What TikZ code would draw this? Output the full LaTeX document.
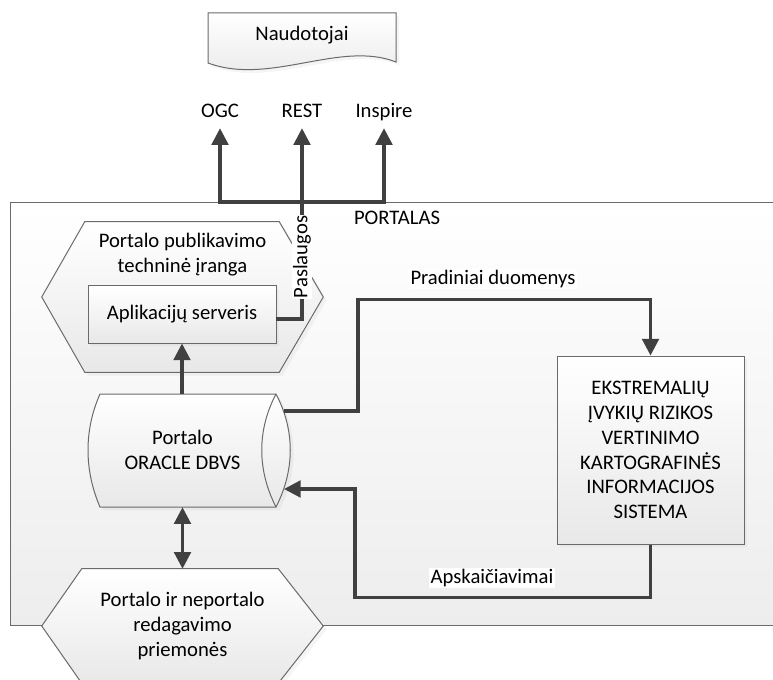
\documentclass[tikz,border=0pt]{standalone}
\usepackage{fontspec}
\setmainfont{Carlito}
\usetikzlibrary{arrows.meta,calc,shadows}

\definecolor{wirecol}{HTML}{404040}
\definecolor{rimcol}{HTML}{6A6A6A}
\newcommand{\pxu}{0.75pt}

\begin{document}
\begin{tikzpicture}[x=0.75pt,y=-0.75pt,
  font=\fontsize{15.5}{18.6}\selectfont,
  txt/.style={inner sep=1pt, align=center, text=black},
  tag/.style={txt, fill=white},
  area/.style={draw=none, inner sep=0pt, minimum width=#1},
  shapefill/.style={draw=rimcol, line width=0.75pt, top color=white, bottom color=black!9,
    drop shadow={opacity=0.08, shadow xshift=2.5pt, shadow yshift=-2.5pt}},
  framefill/.style={draw=rimcol, line width=0.75pt, top color=white, bottom color=black!7},
  wire/.style={draw=wirecol, line width=2.4pt},
  tip/.tip={Triangle[length=12.5pt,width=12.5pt]},
  arr/.style={wire, -tip},
  twoway/.style={wire, tip-tip},
  toptext/.style={txt, anchor=base, inner xsep=2pt, inner ysep=7.5pt, text depth=0pt}
]
\useasboundingbox (0,0) rectangle (773,680);

% PORTALAS frame (its right side runs off the page)
\path[framefill] (10,203) rectangle (800,625);
\node[txt] (portal) at (397,218) {PORTALAS};

% users: document shape
\path[shapefill] (208,13) -- (396,13) -- (396,62)
  .. controls (340,40) and (270,86) .. (208,63) -- cycle;
\node[txt] (users) at (302,35) {Naudotojai};

% service protocols
\node[toptext] (ogc) at (220,118) {OGC};
\node[toptext] (rest) at (302,118) {REST};
\node[toptext] (inspire) at (384,118) {Inspire};
\coordinate (busy) at (302,202);

% publishing hardware (hexagon)
\node[area=281*\pxu, minimum height=150*\pxu] (pub) at (182.5,297) {};
\path[shapefill] (pub.west) -- ($(pub.north west)+(43,0)$) -- ($(pub.north east)+(-44,0)$)
  -- (pub.east) -- ($(pub.south east)+(-44,0)$) -- ($(pub.south west)+(43,0)$) -- cycle;
\node[txt] (pubtext) at (182.5,255) {Portalo publikavimo\\techninė įranga};

% application server
\node[shapefill, txt, minimum width=188*\pxu, minimum height=57*\pxu] (app) at (182,314.5)
  {Aplikacijų serveris};
\coordinate (appout) at (276,319);

% database (horizontal cylinder)
\node[area=203*\pxu, minimum height=113*\pxu] (db) at (189.5,450.5) {};
\path[shapefill] (100,394) -- (276,394) .. controls (295,430) and (295,470) .. (276,507)
  -- (100,507) .. controls (84,470) and (84,430) .. (100,394) -- cycle;
\draw[rimcol, line width=0.75pt] (276,394) .. controls (257,430) and (257,470) .. (276,507);
\node[txt] (dbtext) at (182.5,450) {Portalo\\ORACLE DBVS};
\coordinate (dbout) at (284,411);
\coordinate (dbin) at (284,489);

% editing tools (hexagon)
\node[area=281*\pxu, minimum height=114*\pxu] (edit) at (182.5,626) {};
\path[shapefill] (edit.west) -- ($(edit.north west)+(40,0)$) -- ($(edit.north east)+(-45,0)$)
  -- (edit.east) -- ($(edit.south east)+(-45,0)$) -- ($(edit.south west)+(40,0)$) -- cycle;
\node[txt] (edittext) at (182.5,626) {Portalo ir neportalo\\redagavimo\\priemonės};

% risk assessment information system
\node[shapefill, txt, minimum width=187*\pxu, minimum height=188*\pxu] (ekis) at (650.5,450)
  {EKSTREMALIŲ\\ĮVYKIŲ RIZIKOS\\VERTINIMO\\KARTOGRAFINĖS\\INFORMACIJOS\\SISTEMA};

% connectors
\draw[twoway] (ogc.south) -- (ogc.south |- busy) -- (inspire.south |- busy) -- (inspire.south);
\draw[arr] (appout) -| (rest.south);
\node[tag, rotate=90] (serv) at (302,257) {Paslaugos};

\draw[arr] (app.south |- db.north) -- (app.south);
\draw[twoway] (edit.north |- db.south) -- (edit.north);

\draw[arr] (dbout) -- ++(74,0) |- ($(ekis.north)+(0,-56)$) -- (ekis.north);
\node[tag] (prad) at (493,279) {Pradiniai duomenys};

\draw[arr] (ekis.south) -- ++(0,53) -| ($(dbin)+(71,0)$) -- (dbin);
\node[tag] (apsk) at (492,578) {Apskaičiavimai};
\end{tikzpicture}
\end{document}
